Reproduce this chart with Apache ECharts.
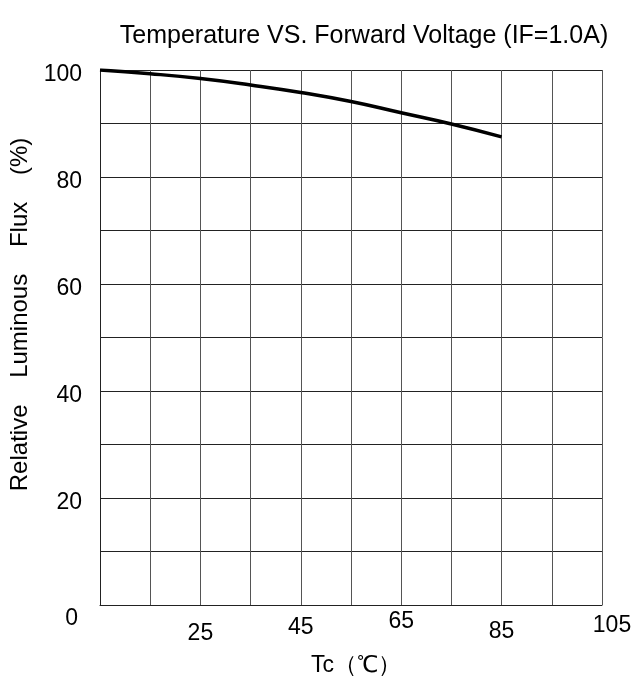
<!DOCTYPE html>
<html>
<head>
<meta charset="utf-8">
<script src="https://cdn.jsdelivr.net/npm/echarts@6/dist/echarts.min.js"></script>
<style>
html,body{margin:0;padding:0;background:#fff;}
#chart{width:642px;height:684px;}
</style>
</head>
<body>
<div id="chart"></div>
<script>
const titleText = 'Temperature VS. Forward Voltage (IF=1.0A)';
const xName = 'Tc（℃）';
const yName = 'Relative    Luminous    Flux    (%)';
const tcValues = [5, 15, 25, 35, 45, 55, 65, 75, 85];
const fluxValues = [100, 99.3, 98.4, 97.2, 95.8, 94.1, 92.0, 89.9, 87.5];
const xTickLabels = [25, 45, 65, 85, 105];
const yTickLabels = [0, 20, 40, 60, 80, 100];

const font = 'Liberation Sans, Arial, sans-serif';
const fs = 23;
const lbl = (extra) => Object.assign({fontFamily: font, fontSize: fs, color: '#000'}, extra);
const chart = echarts.init(document.getElementById('chart'), null, {renderer: 'canvas'});
chart.setOption({
  backgroundColor: '#ffffff',
  animation: false,
  title: {
    text: titleText,
    left: 359, top: 19, textAlign: 'center',
    textStyle: {fontFamily: font, fontSize: 25, fontWeight: 'normal', color: '#000'}
  },
  grid: {left: 100, right: 40, top: 70, bottom: 79, containLabel: false},
  xAxis: {
    type: 'value', min: 5, max: 105, interval: 10,
    name: xName, nameLocation: 'middle', nameGap: 49,
    nameTextStyle: {fontFamily: font, fontSize: fs, color: '#000', padding: [0, 0, 0, 10]},
    axisLine: {show: true, lineStyle: {color: '#222', width: 1}},
    axisTick: {show: false},
    axisLabel: {
      margin: 5, color: '#000', fontFamily: font, fontSize: fs,
      formatter: v => xTickLabels.includes(v) ? '{x' + v + '|' + v + '}' : '',
      rich: {
        x25: lbl({padding: [12, 0, 0, 0]}),
        x45: lbl({padding: [6, 0, 0, 0]}),
        x65: lbl({padding: [0, 0, 0, 0]}),
        x85: lbl({padding: [10, 0, 0, 0]}),
        x105: lbl({padding: [4, 0, 0, 20]})
      }
    },
    splitLine: {show: true, lineStyle: {color: '#555', width: 1}}
  },
  yAxis: {
    type: 'value', min: 0, max: 100, interval: 10,
    name: yName, nameLocation: 'middle', nameGap: 53, nameRotate: 90,
    nameTextStyle: {fontFamily: font, fontSize: 24, color: '#000', padding: [0, 0, 0, 46]},
    axisLine: {show: true, lineStyle: {color: '#222', width: 1}},
    axisTick: {show: false},
    axisLabel: {
      margin: 18, color: '#000', fontFamily: font, fontSize: fs,
      formatter: v => yTickLabels.includes(v) ? (v === 0 ? '{z|0}' : '{n|' + v + '}') : '',
      rich: {
        n: lbl({padding: [10, 0, 0, 0]}),
        z: lbl({padding: [28, 4, 0, 0]})
      }
    },
    splitLine: {show: true, lineStyle: {color: '#222', width: 1}}
  },
  series: [{
    type: 'line',
    data: tcValues.map((t, i) => [t, fluxValues[i]]),
    smooth: true,
    showSymbol: false,
    lineStyle: {color: '#000', width: 3.5}
  }]
});
</script>
</body>
</html>
